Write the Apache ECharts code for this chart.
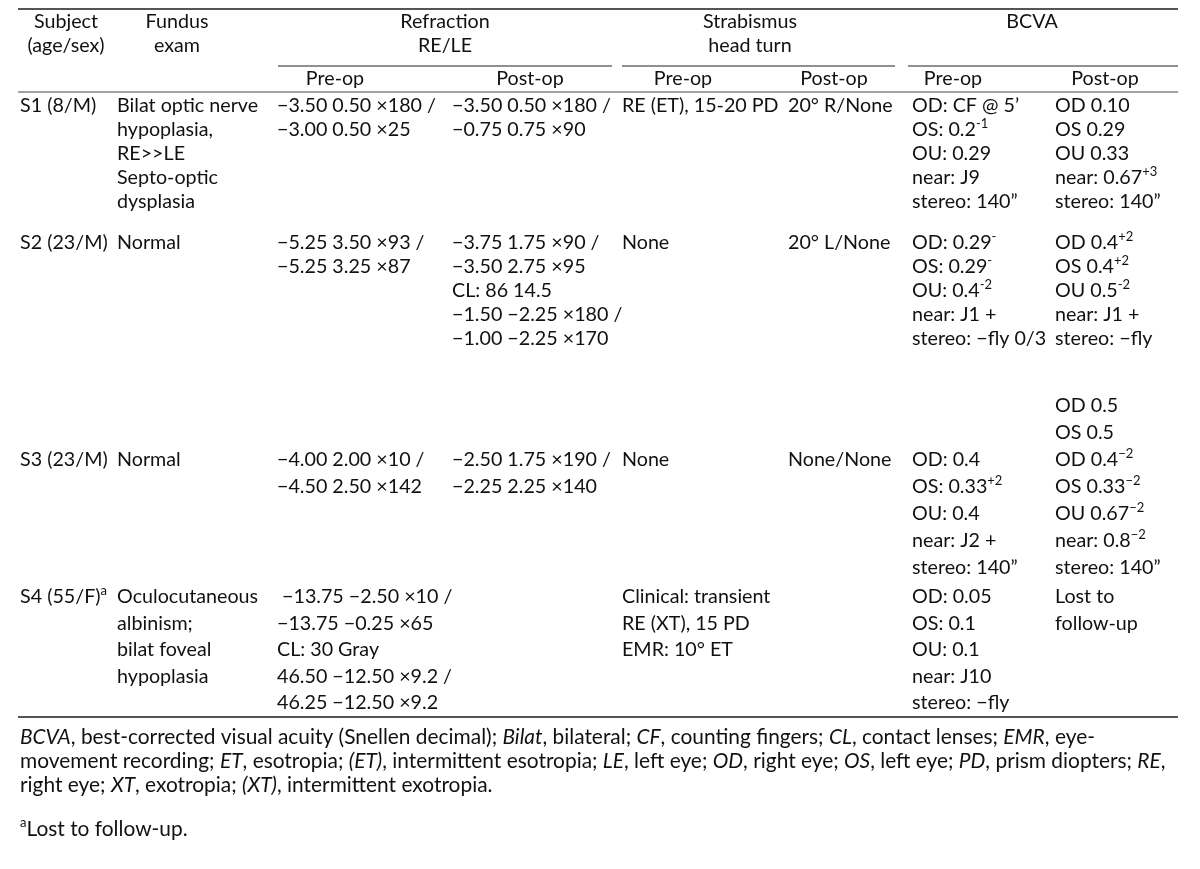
<!DOCTYPE html>
<html><head><meta charset="utf-8">
<script src="https://cdn.jsdelivr.net/npm/echarts@6/dist/echarts.min.js"></script>
<style>html,body{margin:0;padding:0;background:#fff}#c{width:1200px;height:869px}</style>
</head><body><div id="c"></div>
<script>
// ---------- DATA ----------
const groupHeaders = [["Subject", "(age/sex)"], ["Fundus", "exam"], ["Refraction", "RE/LE"], ["Strabismus", "head turn"], ["BCVA"]];
const subHeaders = ["Pre-op", "Post-op", "Pre-op", "Post-op", "Pre-op", "Post-op"];
const subjectCol = [["S1 (8/M)"], ["S2 (23/M)"], ["S3 (23/M)"], ["S4 (55/F)^(a)"]];
const fundusCol = [["Bilat optic nerve", "hypoplasia,", "RE>>LE", "Septo-optic", "dysplasia"], ["Normal"], ["Normal"], ["Oculocutaneous", "albinism;", "bilat foveal", "hypoplasia"]];
const refractionPre = [["−3.50 0.50 ×180 /", "−3.00 0.50 ×25"], ["−5.25 3.50 ×93 /", "−5.25 3.25 ×87"], ["−4.00 2.00 ×10 /", "−4.50 2.50 ×142"], [" −13.75 −2.50 ×10 /", "−13.75 −0.25 ×65", "CL: 30 Gray", "46.50 −12.50 ×9.2 /", "46.25 −12.50 ×9.2"]];
const refractionPost = [["−3.50 0.50 ×180 /", "−0.75 0.75 ×90"], ["−3.75 1.75 ×90 /", "−3.50 2.75 ×95", "CL: 86 14.5", "−1.50 −2.25 ×180 /", "−1.00 −2.25 ×170"], ["−2.50 1.75 ×190 /", "−2.25 2.25 ×140"], []];
const strabismusPre = [["RE (ET), 15-20 PD"], ["None"], ["None"], ["Clinical: transient", "RE (XT), 15 PD", "EMR: 10° ET"]];
const strabismusPost = [["20° R/None"], ["20° L/None"], ["None/None"], []];
const bcvaPre = [["OD: CF @ 5’", "OS: 0.2^(-1)", "OU: 0.29", "near: J9", "stereo: 140”"], ["OD: 0.29^(-)", "OS: 0.29^(-)", "OU: 0.4^(-2)", "near: J1 +", "stereo: −fly 0/3"], ["OD: 0.4", "OS: 0.33^(+2)", "OU: 0.4", "near: J2 +", "stereo: 140”"], ["OD: 0.05", "OS: 0.1", "OU: 0.1", "near: J10", "stereo: −fly"]];
const bcvaPost = [["OD 0.10", "OS 0.29", "OU 0.33", "near: 0.67^(+3)", "stereo: 140”"], ["OD 0.4^(+2)", "OS 0.4^(+2)", "OU 0.5^(-2)", "near: J1 +", "stereo: −fly"], ["OD 0.5", "OS 0.5", "OD 0.4^(−2)", "OS 0.33^(−2)", "OU 0.67^(−2)", "near: 0.8^(−2)", "stereo: 140”"], ["Lost to", "follow-up"]];
const footnoteLines = [
  "{i|BCVA}, best-corrected visual acuity (Snellen decimal); {i|Bilat}, bilateral; {i|CF}, counting fingers; {i|CL}, contact lenses; {i|EMR}, eye-",
  "movement recording; {i|ET}, esotropia; {i|(ET)}, intermittent esotropia; {i|LE}, left eye; {i|OD}, right eye; {i|OS}, left eye; {i|PD}, prism diopters; {i|RE},",
  "right eye; {i|XT}, exotropia; {i|(XT)}, intermittent exotropia."
];
const footnoteA = "^(a)Lost to follow-up.";

// ---------- LAYOUT ----------
const FONT = 'Lato';
const FS = 19.7;
const FS_NOTE = 20.9;
const colX = [20, 117, 277, 452, 622, 788, 912, 1055];
const groupCenter = [66, 177, 445, 750, 1032];
const groupRule = [[278, 612], [622, 895], [908, 1178]];
const subCenter = [335, 530, 683, 834, 953, 1105];
const rowY = [106, 243, 460, 597];
const rowStep = [24, 24, 27, 26.5];
const lineOffset = { "2-7": -2 };

const columns = [subjectCol, fundusCol, refractionPre, refractionPost, strabismusPre, strabismusPost, bcvaPre, bcvaPost];

function makeRich(fs) {
  return {
    sup: { fontFamily: FONT, fontSize: 13, padding: [0, 0, 13, 0], fill: '#111' },
    i: { fontFamily: FONT, fontSize: fs, fontStyle: 'italic', fill: '#111' }
  };
}
function fmt(s) { return s.replace(/\^\(([^)]*)\)/g, '{sup|$1}'); }
function txt(x, y, s, align, fs) {
  fs = fs || FS;
  return {
    type: 'text', silent: true,
    style: { x: x, y: y, text: fmt(s), fontFamily: FONT, fontSize: fs, fill: '#111',
      textAlign: align || 'left', textVerticalAlign: 'middle', rich: makeRich(fs) }
  };
}
function rule(x1, x2, y, w, c) {
  return { type: 'line', silent: true, shape: { x1: x1, y1: y, x2: x2, y2: y }, style: { stroke: c, lineWidth: w } };
}

const els = [];
els.push(rule(18, 1178, 9, 2, '#555'));
groupHeaders.forEach((g, gi) => g.forEach((t, li) => els.push(txt(groupCenter[gi], 22 + li * 24, t, 'center'))));
groupRule.forEach(r => els.push(rule(r[0], r[1], 66, 1, '#222')));
subHeaders.forEach((t, i) => els.push(txt(subCenter[i], 79, t, 'center')));
els.push(rule(18, 1178, 92, 1, '#444'));

columns.forEach((col, ci) => {
  col.forEach((lines, ri) => {
    const off = lineOffset[ri + '-' + ci] || 0;
    lines.forEach((t, li) => {
      els.push(txt(colX[ci], rowY[ri] + (li + off) * rowStep[ri], t));
    });
  });
});
els.push(rule(18, 1178, 717, 2, '#555'));

footnoteLines.forEach((t, i) => els.push(txt(20, 737 + i * 24, t, 'left', FS_NOTE)));
els.push(txt(20, 829, footnoteA, 'left', FS_NOTE));

const chart = echarts.init(document.getElementById('c'), null, { renderer: 'canvas' });
chart.setOption({ backgroundColor: '#fff', animation: false, graphic: { elements: els } });
</script>
</body></html>
